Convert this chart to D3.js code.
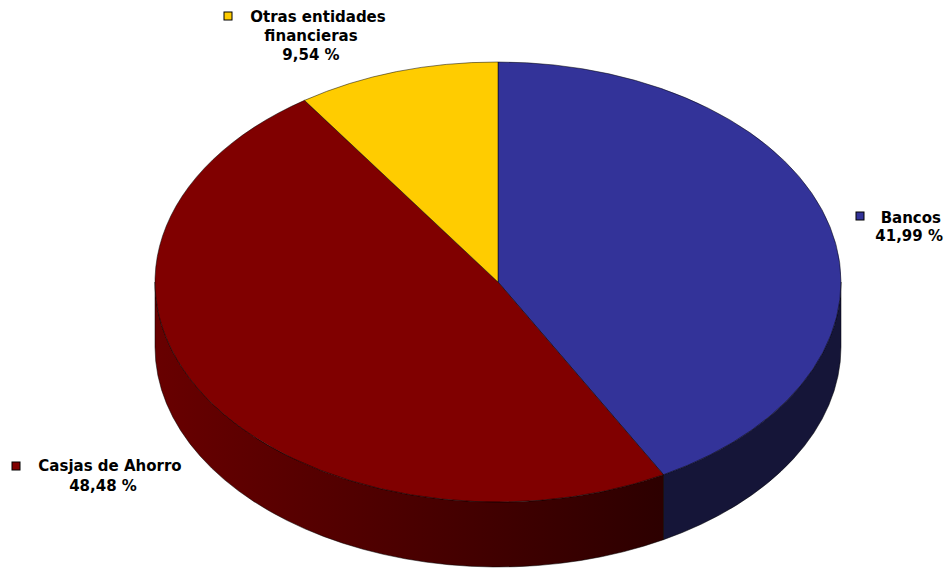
<!DOCTYPE html>
<html>
<head>
<meta charset="utf-8">
<script src="https://cdn.jsdelivr.net/npm/d3@7"></script>
<style>
  html, body { margin: 0; padding: 0; background: #ffffff; }
  svg { display: block; }
  text { font-family: "DejaVu Sans", Verdana, sans-serif; font-weight: bold; font-size: 15px; fill: #000; }
</style>
</head>
<body>
<svg id="chart" width="949" height="568"></svg>
<script>
// Slice data, clockwise from 12 o'clock
const categories = ["Bancos", "Casjas de Ahorro", "Otras entidades financieras"];
const shares = [41.99, 48.48, 9.54];
const topColors = ["#333399", "#800000", "#ffcc00"];
const sideColorsLight = ["#1c1c48", "#680000", "#b38f00"];
const sideColorsDark = ["#151538", "#2c0000", "#806600"];
const shareLabels = ["41,99 %", "48,48 %", "9,54 %"];

const W = 949, H = 568;
const cx = 498, cy = 282, rx = 343, ry = 220, depth = 65;

const svg = d3.select("#chart");
const defs = svg.append("defs");

const pie = d3.pie().sort(null).value(d => d)(shares);

// point on the rim for an angle measured clockwise from the top
const px = a => cx + rx * Math.sin(a);
const py = a => cy - ry * Math.cos(a);

function topPath(a0, a1) {
  const large = (a1 - a0) > Math.PI ? 1 : 0;
  return `M${cx},${cy}L${px(a0)},${py(a0)}A${rx},${ry} 0 ${large} 1 ${px(a1)},${py(a1)}Z`;
}

function sidePath(a0, a1) {
  const large = (a1 - a0) > Math.PI ? 1 : 0;
  return `M${px(a0)},${py(a0)}A${rx},${ry} 0 ${large} 1 ${px(a1)},${py(a1)}` +
         `L${px(a1)},${py(a1) + depth}A${rx},${ry} 0 ${large} 0 ${px(a0)},${py(a0) + depth}Z`;
}

// horizontal shading for the walls
pie.forEach((d, i) => {
  const g = defs.append("linearGradient")
    .attr("id", "side" + i)
    .attr("gradientUnits", "userSpaceOnUse")
    .attr("x1", cx - rx).attr("x2", cx + rx * 0.5)
    .attr("y1", 0).attr("y2", 0);
  g.append("stop").attr("offset", 0).attr("stop-color", sideColorsLight[i]);
  g.append("stop").attr("offset", 1).attr("stop-color", sideColorsDark[i]);
});

// visible front walls (angles between 90° and 270°)
const wallG = svg.append("g");
pie.forEach((d, i) => {
  const a0 = Math.max(d.startAngle, Math.PI / 2);
  const a1 = Math.min(d.endAngle, Math.PI * 1.5);
  if (a1 > a0) {
    wallG.append("path")
      .attr("d", sidePath(a0, a1))
      .attr("fill", `url(#side${i})`)
      .attr("stroke", "#000")
      .attr("stroke-width", 0.5)
      .attr("stroke-linejoin", "round");
  }
});

// top faces
const topG = svg.append("g");
pie.forEach((d, i) => {
  topG.append("path")
    .attr("d", topPath(d.startAngle, d.endAngle))
    .attr("fill", topColors[i])
    .attr("stroke", "#000")
    .attr("stroke-width", 0.5)
    .attr("stroke-linejoin", "round");
});

// labels with legend keys
const labels = [
  { lines: ["Bancos", shareLabels[0]], anchor: "end", x: [941, 943], y: [223, 241], key: [856, 212] },
  { lines: ["Casjas de Ahorro", shareLabels[1]], anchor: "middle", x: [110, 103], y: [471, 491], key: [12, 462] },
  { lines: ["Otras entidades", "financieras", shareLabels[2]], anchor: "middle", x: [318, 311, 311], y: [22, 41, 60], key: [224, 12] }
];

const labG = svg.append("g");
labels.forEach((l, i) => {
  labG.append("rect")
    .attr("x", l.key[0]).attr("y", l.key[1])
    .attr("width", 8).attr("height", 8)
    .attr("fill", topColors[i])
    .attr("stroke", "#000").attr("stroke-width", 1);
  l.lines.forEach((t, j) => {
    labG.append("text")
      .attr("x", l.x[j]).attr("y", l.y[j])
      .attr("text-anchor", l.anchor)
      .text(t);
  });
});
</script>
</body>
</html>
